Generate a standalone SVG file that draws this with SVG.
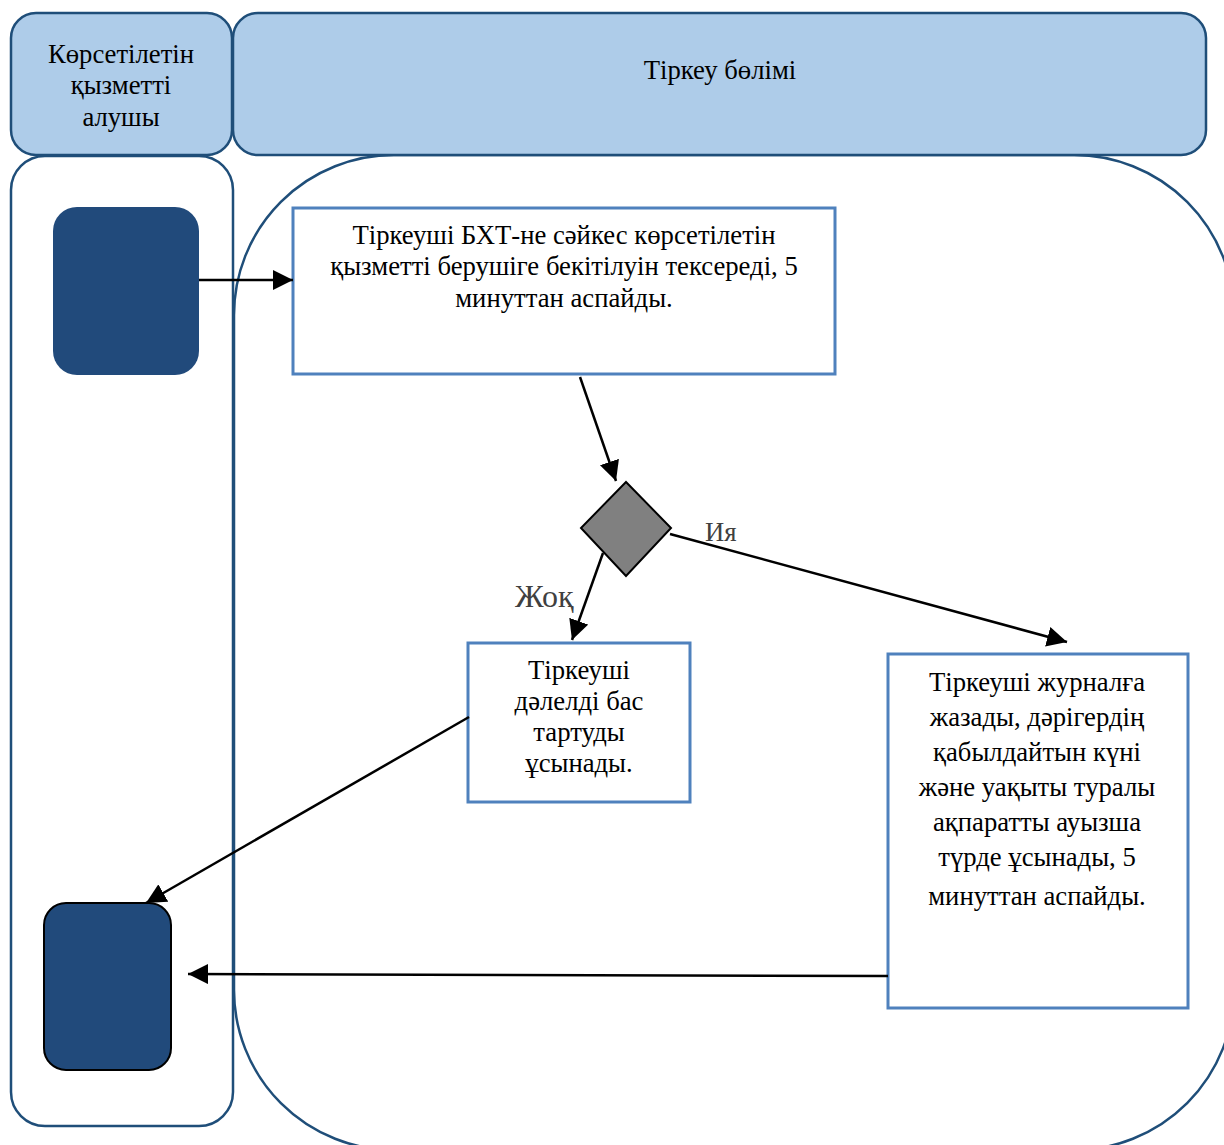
<svg xmlns="http://www.w3.org/2000/svg" width="1224" height="1145" viewBox="0 0 1224 1145">
<defs>
<style>
.hdr{fill:#aecce9;stroke:#1f4e79;stroke-width:2.5}
.lane{fill:none;stroke:#1f4e79;stroke-width:2.5}
.box{fill:#ffffff;stroke:#4f81bd;stroke-width:3}
.term{fill:#214a7b}
.t{font-family:"Liberation Serif","Times New Roman",serif;font-size:26.7px;fill:#000;text-anchor:middle}
.lbl{font-family:"Liberation Serif","Times New Roman",serif;fill:#404040}
.conn line{stroke:#000;stroke-width:2.5}
</style>
<marker id="ah2" viewBox="0 0 10 10" refX="10" refY="5" markerWidth="20" markerHeight="20" markerUnits="userSpaceOnUse" orient="auto">
<path d="M0,0 L10,5 L0,10 z" fill="#000"/>
</marker>
</defs>
<rect width="1224" height="1145" fill="#ffffff"/>
<g id="lane-left">
<rect x="11" y="156" width="222" height="970" rx="34" class="lane"/>
</g>
<g id="lane-right">
<rect x="234" y="155" width="1000" height="995" rx="160" class="lane"/>
</g>
<g id="header-left">
<rect x="11" y="13" width="221" height="142" rx="25" class="hdr"/>
<text class="t" x="121" y="63">Көрсетілетін</text>
<text class="t" x="121" y="94">қызметті</text>
<text class="t" x="121" y="126">алушы</text>
</g>
<g id="header-right">
<rect x="233" y="13" width="973" height="142" rx="25" class="hdr"/>
<text class="t" x="720" y="79">Тіркеу бөлімі</text>
</g>
<g id="start">
<rect x="53" y="207" width="146" height="168" rx="24" class="term"/>
</g>
<g id="check">
<rect x="293" y="208" width="542" height="166" class="box"/>
<text class="t" x="564" y="244">Тіркеуші БХТ-не сәйкес көрсетілетін</text>
<text class="t" x="564" y="275">қызметті берушіге бекітілуін тексереді, 5</text>
<text class="t" x="564" y="307">минуттан аспайды.</text>
</g>
<g id="decision">
<polygon points="626,482 671,528 626,576 581,528" fill="#808080" stroke="#000" stroke-width="2"/>
</g>
<g id="refuse">
<rect x="468" y="643" width="222" height="159" class="box"/>
<text class="t" x="579" y="679">Тіркеуші</text>
<text class="t" x="579" y="710">дәлелді бас</text>
<text class="t" x="579" y="741">тартуды</text>
<text class="t" x="579" y="772">ұсынады.</text>
</g>
<g id="register">
<rect x="888" y="654" width="300" height="354" class="box"/>
<text class="t" x="1037" y="691">Тіркеуші журналға</text>
<text class="t" x="1037" y="726">жазады, дәрігердің</text>
<text class="t" x="1037" y="761">қабылдайтын күні</text>
<text class="t" x="1037" y="796">және уақыты туралы</text>
<text class="t" x="1037" y="831">ақпаратты ауызша</text>
<text class="t" x="1037" y="866">түрде ұсынады, 5</text>
<text class="t" x="1037" y="905">минуттан аспайды.</text>
</g>
<g id="end">
<rect x="44" y="903" width="127" height="167" rx="22" fill="#214a7b" stroke="#000" stroke-width="2"/>
</g>
<g id="connectors" class="conn">
<line x1="199" y1="280" x2="293" y2="280" marker-end="url(#ah2)"/>
<line x1="580" y1="377" x2="616" y2="481" marker-end="url(#ah2)"/>
<line x1="603" y1="553" x2="572" y2="640" marker-end="url(#ah2)"/>
<line x1="670" y1="534" x2="1067" y2="642" marker-end="url(#ah2)"/>
<line x1="469" y1="717" x2="146" y2="903" marker-end="url(#ah2)"/>
<line x1="888" y1="976" x2="188" y2="974" marker-end="url(#ah2)"/>
<text class="lbl" x="515" y="607" font-size="32">Жоқ</text>
<text class="lbl" x="705" y="541" font-size="26.7">Ия</text>
</g>
</svg>
